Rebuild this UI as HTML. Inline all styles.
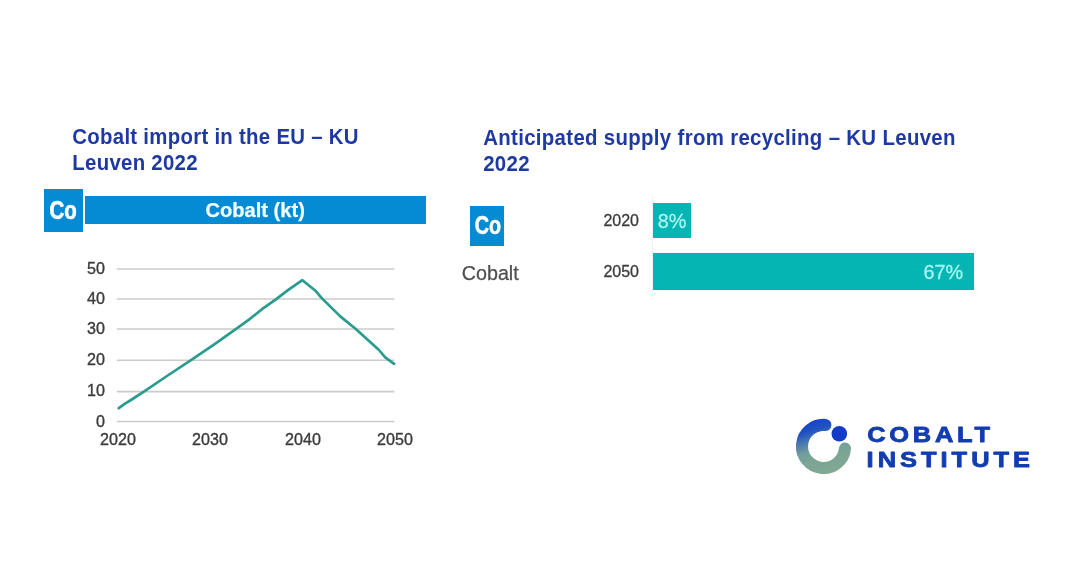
<!DOCTYPE html>
<html lang="en">
<head>
<meta charset="utf-8">
<title>Cobalt – KU Leuven 2022</title>
<style>
  html, body { margin: 0; padding: 0; background: #ffffff; }
  body { width: 1068px; height: 580px; position: relative; overflow: hidden;
         font-family: "Liberation Sans", sans-serif; filter: blur(0.5px); }
  .abs { position: absolute; white-space: nowrap; }
  h2.title { position: absolute; margin: 0; font-size: 20.4px; line-height: 24.6px; font-weight: bold; transform: scaleY(1.04); transform-origin: 0 18.5px;
             color: #1e3aa2; white-space: nowrap; letter-spacing: 0.28px; }
  #t1 { left: 72.3px; top: 124.9px; }
  #t2 { left: 483.2px; top: 126.1px; letter-spacing: 0.33px; }
  .cobox { position: absolute; background: #048bd3; color: #fff; font-weight: bold; overflow: hidden; }
  .cobox span { position: absolute; left: 0; top: 0; width: 100%; text-align: center;
                transform-origin: 50% 50%; }
  #co1 { left: 44.4px; top: 188.5px; width: 38.3px; height: 43.5px; }
  #co1 span { font-size: 25.5px; line-height: 42px; transform: scaleX(0.8); -webkit-text-stroke: 0.7px #fff; }
  #bar1 { position: absolute; left: 84.8px; top: 196.3px; width: 340.8px; height: 27.3px; -webkit-text-stroke: 0.25px #f2feff; background: #048bd3;
          color: #f2feff; font-weight: bold; font-size: 20.1px; line-height: 28.8px; text-align: center; }
  #co2 { left: 470.4px; top: 206px; width: 34px; height: 40.2px; }
  #co2 span { font-size: 25px; line-height: 38.4px; transform: scaleX(0.79); left: 0.5px; -webkit-text-stroke: 0.6px #fff; }
  #cobalt-label { left: 461.8px; top: 261px; font-size: 19.7px; line-height: 24px; color: #4f4f4f; -webkit-text-stroke: 0.25px #4f4f4f; }
  .ylab { position: absolute; font-size: 16px; line-height: 18px; color: #3c3c3c; -webkit-text-stroke: 0.3px #3c3c3c; white-space: nowrap; }
  .hbar { position: absolute; background: #04b5b3; color: #a6f6ef; font-size: 19.8px; -webkit-text-stroke: 0.3px #a6f6ef; }
  #hb1 { left: 653.3px; top: 202.5px; width: 37.6px; height: 35.7px; line-height: 37.4px; text-align: center; }
  #hb2 { left: 653.3px; top: 253.3px; width: 321.1px; height: 36.5px; line-height: 38px; text-align: right; }
  #hb2 span { padding-right: 11.2px; }
  #axis { position: absolute; left: 652px; top: 196px; width: 1px; height: 102px; background: #f1f1f1; }
  #chart { position: absolute; left: 0; top: 0; }
  #logo { position: absolute; left: 0; top: 0; }
</style>
</head>
<body>
<h2 class="title" id="t1">Cobalt import in the EU – KU<br>Leuven 2022</h2>
<div class="cobox" id="co1"><span>Co</span></div>
<div id="bar1">Cobalt (kt)</div>

<svg id="chart" width="1068" height="580" viewBox="0 0 1068 580">
  <g stroke="#cbcbcb" stroke-width="1.6" fill="none">
    <line x1="116.8" y1="269" x2="394.3" y2="269"/>
    <line x1="116.8" y1="299" x2="394.3" y2="299"/>
    <line x1="116.8" y1="329" x2="394.3" y2="329"/>
    <line x1="116.8" y1="360.3" x2="394.3" y2="360.3"/>
    <line x1="116.8" y1="391.6" x2="394.3" y2="391.6"/>
    <line x1="116.8" y1="421.5" x2="394.3" y2="421.5"/>
  </g>
  <polyline fill="none" stroke="#2a9c8d" stroke-width="2.7" stroke-linejoin="round" stroke-linecap="round"
    points="118.8,408.2 125,403.6 131,400 143.5,391.8 167,376 191,360.2 215,343.8 237.9,327.6 250,318.8 262,309.2 275.2,299.8 289,289.4 302.4,280.2 315.5,290.8 322,298.4 340.3,316.4 355.5,328.7 379,350 385.2,357.4 394.1,363.8"/>
  <g font-family="'Liberation Sans', sans-serif" font-size="16.1" fill="#3c3c3c" stroke="#3c3c3c" stroke-width="0.35" text-anchor="end">
    <text x="105" y="274.4">50</text>
    <text x="105" y="304.4">40</text>
    <text x="105" y="334.4">30</text>
    <text x="105" y="365.4">20</text>
    <text x="105" y="396.4">10</text>
    <text x="105" y="426.9">0</text>
  </g>
  <g font-family="'Liberation Sans', sans-serif" font-size="16.1" fill="#3c3c3c" stroke="#3c3c3c" stroke-width="0.35" text-anchor="middle">
    <text x="118" y="444.5">2020</text>
    <text x="210" y="444.5">2030</text>
    <text x="303" y="444.5">2040</text>
    <text x="395" y="444.5">2050</text>
  </g>
</svg>

<h2 class="title" id="t2">Anticipated supply from recycling – KU Leuven<br>2022</h2>
<div class="cobox" id="co2"><span>Co</span></div>
<div class="abs" id="cobalt-label">Cobalt</div>
<div class="ylab" style="left:603.4px; top:211.7px;">2020</div>
<div class="ylab" style="left:603.4px; top:262.5px;">2050</div>
<div id="axis"></div>
<div class="hbar" id="hb1">8%</div>
<div class="hbar" id="hb2"><span>67%</span></div>

<svg id="logo" width="1068" height="580" viewBox="0 0 1068 580">
  <defs>
    <linearGradient id="lg" gradientUnits="userSpaceOnUse" x1="815.5" y1="420.7" x2="831.7" y2="472.3">
      <stop offset="0" stop-color="#1745c9"/>
      <stop offset="0.16" stop-color="#2252c0"/>
      <stop offset="0.34" stop-color="#4a7cae"/>
      <stop offset="0.52" stop-color="#729d9d"/>
      <stop offset="0.7" stop-color="#7ba594"/>
      <stop offset="1" stop-color="#7fa993"/>
    </linearGradient>
  </defs>
  <path d="M 825.4 425.0 A 21.55 21.55 0 1 0 845 448.6" fill="none" stroke="url(#lg)" stroke-width="12.1" stroke-linecap="round"/>
  <circle cx="839.3" cy="433.7" r="7.8" fill="#123bc8"/>
  <g font-family="'Liberation Sans', sans-serif" font-weight="bold" font-size="21.2" fill="#123cb0" stroke="#123cb0" stroke-width="0.8" stroke-linejoin="round">
    <text transform="translate(867.2 441.7) scale(1.2 1)" textLength="102.4" lengthAdjust="spacing">COBALT</text>
    <text transform="translate(866.6 467) scale(1.2 1)" textLength="136.2" lengthAdjust="spacing">INSTITUTE</text>
  </g>
</svg>
</body>
</html>
